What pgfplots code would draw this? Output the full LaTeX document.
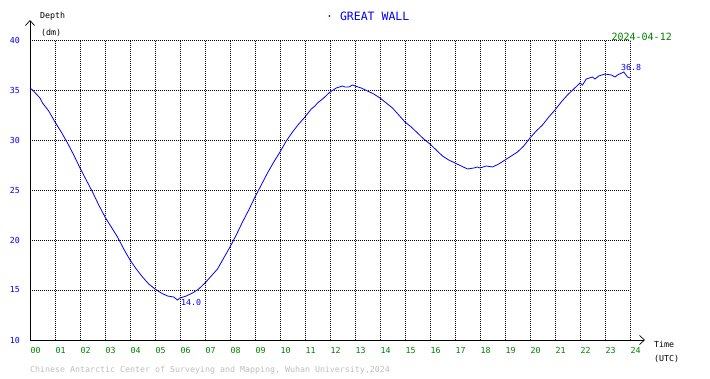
\documentclass[border=0pt]{standalone}
\usepackage{fontspec}
\setmainfont{DejaVu Sans Mono}
\usepackage{pgfplots}
\pgfplotsset{compat=1.18}
\usetikzlibrary{arrows.meta}
\definecolor{tblue}{RGB}{0,0,255}
\definecolor{tgreen}{RGB}{0,128,0}
\definecolor{tgray}{RGB}{190,190,190}
\begin{document}
\begin{tikzpicture}[x=1pt,y=1pt]
\path[use as bounding box] (0,0) rectangle (710,378);
\begin{axis}[
  at={(30pt,38pt)}, anchor=south west,
  scale only axis, width=600pt, height=300pt,
  xmin=0, xmax=24, ymin=10, ymax=40,
  axis x line=bottom, axis y line=left,
  x axis line style={line width=0.8pt, -{Straight Barb[length=5pt,width=9pt,line width=0.7pt]}, shorten >=-15pt},
  y axis line style={line width=0.8pt, -{Straight Barb[length=5pt,width=9pt,line width=0.7pt]}, shorten >=-20pt},
  xtick={0,1,...,24},
  xticklabels={00,01,02,03,04,05,06,07,08,09,10,11,12,13,14,15,16,17,18,19,20,21,22,23,24},
  ytick={10,15,...,40},
  major tick length=0pt,
  xticklabel style={font=\fontsize{8.3}{9}\selectfont, text=tgreen, anchor=north west, inner sep=0pt, xshift=0.5pt, yshift=-7pt},
  yticklabel style={font=\fontsize{8.3}{9}\selectfont, text=tblue, anchor=east, inner sep=0pt, xshift=-10pt},
  /pgf/number format/assume math mode=true,
  grid=major,
  major grid style={black, line width=0.7pt, dash pattern=on 0.7pt off 1.3pt},
  clip=false,
]
\addplot[tblue, line width=0.8pt] coordinates {
(0,35.2)(0.1,35.0)(0.25,34.6)(0.4,34.2)(0.5,33.7)(0.75,32.9)(1,31.8)(1.25,30.8)(1.5,29.7)(1.75,28.5)
(2,27.2)(2.25,26.0)(2.5,24.8)(2.75,23.5)(3,22.3)(3.25,21.3)(3.5,20.3)(3.75,19.1)
(4,18.0)(4.25,17.1)(4.5,16.3)(4.75,15.6)(5,15.1)(5.25,14.7)(5.5,14.4)(5.75,14.3)(5.9,14.0)
(6,14.2)(6.25,14.4)(6.5,14.7)(6.75,15.1)(7,15.7)(7.25,16.4)(7.5,17.1)(7.75,18.2)
(8,19.3)(8.25,20.5)(8.5,21.8)(8.75,23.0)(9,24.3)(9.25,25.5)(9.5,26.7)(9.75,27.8)
(10,28.8)(10.25,29.9)(10.5,30.8)(10.75,31.6)(11,32.3)(11.25,33.1)(11.4,33.4)(11.5,33.7)(11.75,34.2)
(12,34.8)(12.25,35.2)(12.5,35.4)(12.6,35.3)(12.75,35.3)(12.9,35.5)(13,35.4)(13.25,35.2)(13.5,34.9)(13.75,34.6)
(14,34.2)(14.25,33.7)(14.5,33.2)(14.75,32.5)(15,31.8)(15.25,31.3)(15.5,30.7)(15.75,30.1)
(16,29.6)(16.25,29.0)(16.5,28.4)(16.75,28.0)(17,27.7)(17.25,27.4)(17.5,27.1)(17.75,27.2)
(17.9,27.3)(18,27.2)(18.25,27.4)(18.5,27.3)(18.75,27.6)(19,28.0)(19.25,28.4)(19.5,28.8)(19.75,29.4)
(20,30.2)(20.25,30.9)(20.5,31.5)(20.75,32.3)(21,33.0)(21.25,33.8)(21.5,34.5)(21.75,35.1)
(22,35.7)(22.1,35.5)(22.25,36.1)(22.5,36.3)(22.6,36.1)(22.75,36.4)(23,36.6)(23.25,36.5)(23.4,36.3)(23.5,36.5)
(23.75,36.8)(23.9,36.3)(24,36.2)
};
\node[anchor=west, inner sep=0pt, text=tblue, font=\fontsize{11.5}{12}\selectfont] at (axis cs:11.84,42.4) {· GREAT WALL};
\node[anchor=west, inner sep=0pt, font=\fontsize{8.3}{9}\selectfont] at (axis cs:0.4,42.4) {Depth};
\node[anchor=west, inner sep=0pt, font=\fontsize{8.3}{9}\selectfont] at (axis cs:0.44,40.7) {(dm)};
\node[anchor=east, inner sep=0pt, text=tgreen, font=\fontsize{10}{11}\selectfont] at (axis cs:25.68,40.3) {2024-04-12};
\node[anchor=west, inner sep=0pt, font=\fontsize{8.3}{9}\selectfont] at (axis cs:24.96,9.6) {Time};
\node[anchor=west, inner sep=0pt, font=\fontsize{8.3}{9}\selectfont] at (axis cs:24.96,8.1) {(UTC)};
\node[anchor=west, inner sep=0pt, text=tgray, font=\fontsize{8.3}{9}\selectfont] at (axis cs:0,7.0) {Chinese Antarctic Center of Surveying and Mapping, Wuhan University,2024};
\node[anchor=west, inner sep=0pt, text=tblue, font=\fontsize{8.3}{9}\selectfont] at (axis cs:6.04,13.8) {14.0};
\node[anchor=west, inner sep=0pt, text=tblue, font=\fontsize{8.3}{9}\selectfont] at (axis cs:23.64,37.3) {36.8};
\end{axis}
\end{tikzpicture}
\end{document}
